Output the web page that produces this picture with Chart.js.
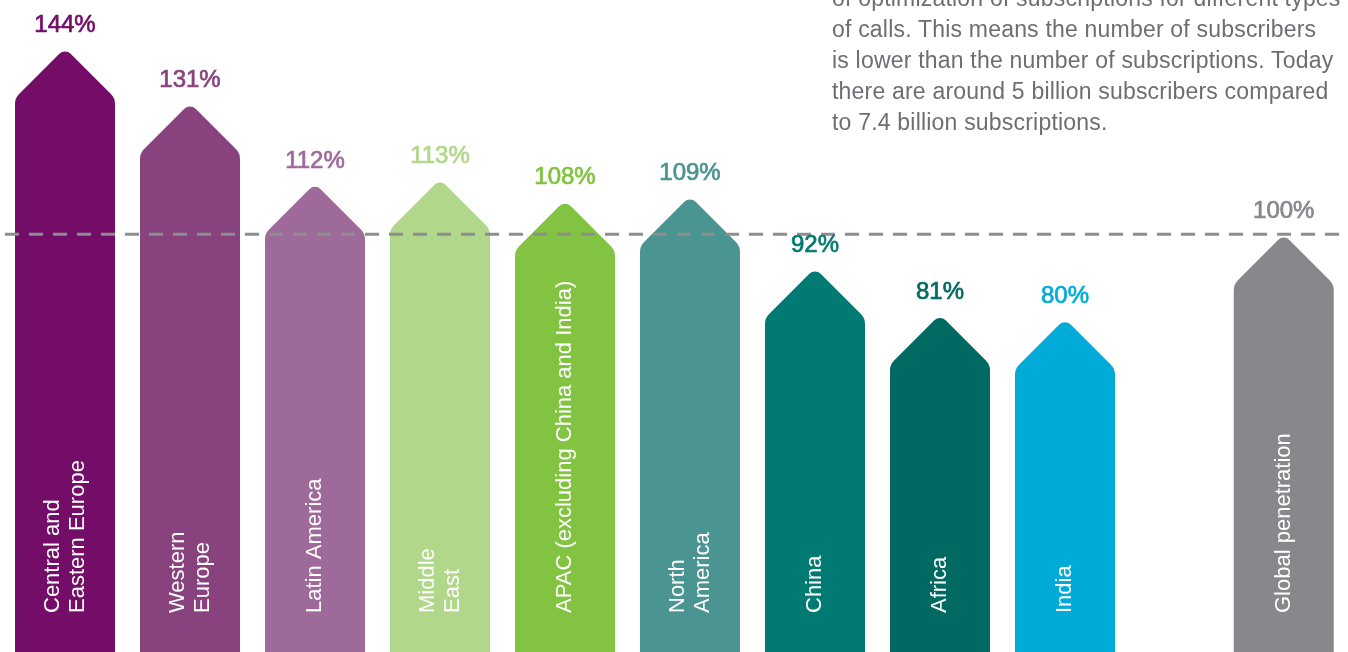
<!DOCTYPE html>
<html>
<head>
<meta charset="utf-8">
<title>Subscription penetration by region</title>
<script src="https://cdn.jsdelivr.net/npm/chart.js@4.4.1/dist/chart.umd.min.js"></script>
<style>
  html, body { margin: 0; padding: 0; background: #fff; overflow: hidden; }
  #wrap { position: relative; width: 1348px; height: 652px; }
  #note {
    position: absolute; left: 832px; top: -17px;
    font-family: "Liberation Sans", Arial, sans-serif;
    font-size: 23px; line-height: 31px; letter-spacing: 0.2px;
    color: #6d6e71; white-space: nowrap;
  }
</style>
</head>
<body>
<div id="wrap">
  <canvas id="chart" width="1348" height="652"></canvas>
  <div id="note">
    of optimization of subscriptions for different types<br>
    of calls. This means the number of subscribers<br>
    is lower than the number of subscriptions. Today<br>
    there are around 5 billion subscribers compared<br>
    to 7.4 billion subscriptions.
  </div>
</div>
<script>
// --- DATA ---
const categories = [
    ['Central and', 'Eastern Europe'],
    ['Western', 'Europe'],
    ['Latin America'],
    ['Middle', 'East'],
    ['APAC (excluding China and India)'],
    ['North', 'America'],
    ['China'],
    ['Africa'],
    ['India'],
    ['Global penetration']
];
const values = [144, 131, 112, 113, 108, 109, 92, 81, 80, 100];
const referenceValue = 100;

// --- LAYOUT / STYLE ---
const slots = [0, 1, 2, 3, 4, 5, 6, 7, 8, 9.75]; // global bar sits apart from the regions
const colors = [
    '#730d68', // Central and Eastern Europe
    '#88437f', // Western Europe
    '#9e6a9a', // Latin America
    '#b1d78a', // Middle East
    '#82c341', // APAC
    '#4a9592', // North America
    '#007a72', // China
    '#006a62', // Africa
    '#00acd7', // India
    '#87888c'  // Global
];
const FONT = '"Liberation Sans", Arial, sans-serif';

const arrowBars = {
    id: 'arrowBars',
    beforeDatasetsDraw(chart) {
        const ctx = chart.ctx;
        const meta = chart.getDatasetMeta(0);
        ctx.save();
        meta.data.forEach((bar, i) => {
            const half = bar.width / 2;
            const cx = bar.x, tip = bar.y, base = bar.base;
            const shoulder = tip + half;
            ctx.fillStyle = colors[i];
            ctx.beginPath();
            ctx.moveTo(cx - half, base);
            ctx.arcTo(cx - half, shoulder, cx, tip, 14);
            ctx.arcTo(cx, tip, cx + half, shoulder, 8);
            ctx.arcTo(cx + half, shoulder, cx + half, base, 14);
            ctx.lineTo(cx + half, base);
            ctx.closePath();
            ctx.fill();
        });
        ctx.restore();
        return false; // skip the default rectangles
    },
    afterDraw(chart) {
        const ctx = chart.ctx;
        const area = chart.chartArea;
        const meta = chart.getDatasetMeta(0);
        const yRef = chart.scales.y.getPixelForValue(referenceValue);

        ctx.save();
        // dashed 100% line over the bars
        ctx.strokeStyle = '#8e8e91';
        ctx.lineWidth = 3;
        ctx.setLineDash([14, 10]);
        ctx.beginPath();
        ctx.moveTo(area.left + 5, yRef);
        ctx.lineTo(area.right, yRef);
        ctx.stroke();
        ctx.setLineDash([]);

        meta.data.forEach((bar, i) => {
            // value above the tip (thin stroke gives a medium weight)
            ctx.fillStyle = colors[i];
            ctx.strokeStyle = colors[i];
            ctx.lineWidth = 0.7;
            ctx.font = '24px ' + FONT;
            ctx.textAlign = 'center';
            ctx.textBaseline = 'alphabetic';
            ctx.fillText(values[i] + '%', bar.x, bar.y - 16);
            ctx.strokeText(values[i] + '%', bar.x, bar.y - 16);

            // category label, rotated inside the bar
            const lines = categories[i];
            const lineGap = 25;
            ctx.save();
            ctx.translate(bar.x, area.bottom - 39);
            ctx.rotate(-Math.PI / 2);
            ctx.fillStyle = '#ffffff';
            ctx.font = '22px ' + FONT;
            ctx.textAlign = 'left';
            ctx.textBaseline = 'middle';
            lines.forEach((line, j) => {
                const off = (j - (lines.length - 1) / 2) * lineGap;
                ctx.fillText(line, 0, off);
            });
            ctx.restore();
        });
        ctx.restore();
    }
};

new Chart(document.getElementById('chart').getContext('2d'), {
    type: 'bar',
    data: {
        datasets: [{
            data: values.map((v, i) => ({ x: slots[i], y: v })),
            backgroundColor: colors,
            borderWidth: 0,
            barThickness: 100
        }]
    },
    options: {
        responsive: false,
        animation: false,
        layout: { padding: 0 },
        scales: {
            x: { type: 'linear', min: -0.52, max: 10.264, offset: false, display: false },
            y: { min: 1.2, max: 155.4, display: false }
        },
        plugins: {
            legend: { display: false },
            tooltip: { enabled: false }
        }
    },
    plugins: [arrowBars]
});
</script>
</body>
</html>
